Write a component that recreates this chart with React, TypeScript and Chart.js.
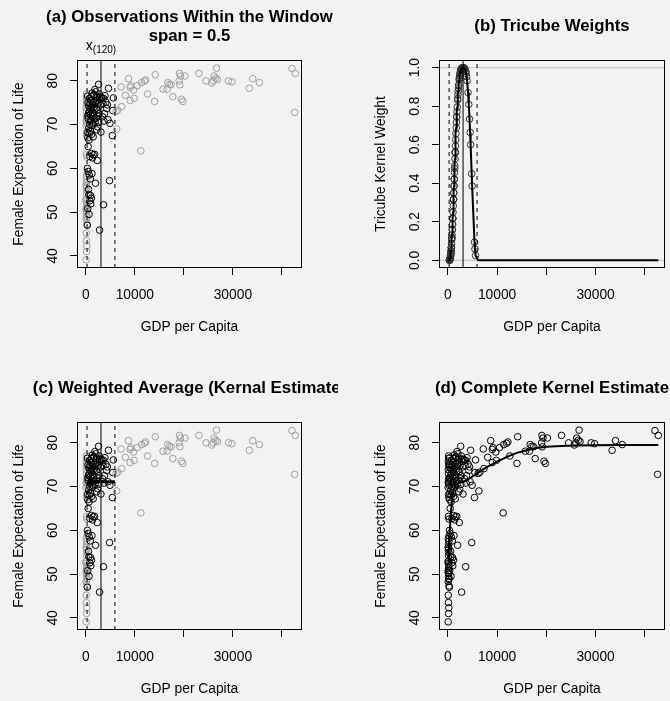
import React, { useEffect, useRef } from 'react';
import { Chart, registerables } from 'chart.js';

Chart.register(...registerables);

const FONT = '"Liberation Sans", Arial, Helvetica, sans-serif';

// ---- data (GDP per capita, female life expectancy) ----
const GDP_POOR = [60, 150, 200, 120, 90, 240, 70, 180, 130, 220, 100, 160, 245, 80, 190, 140, 230, 110, 50, 170, 210, 90, 245, 120, 200, 150, 60, 240, 100, 180, 220, 130, 80, 245, 160, 110, 200, 140, 230, 70, 245, 40, 190, 120, 240];
const LIFE_POOR = [39.1, 41.0, 42.3, 43.5, 45.2, 47.3, 48.3, 48.8, 49.5, 50.1, 50.8, 51.3, 51.9, 52.4, 53.0, 54.2, 54.9, 55.5, 56.2, 56.8, 57.5, 58.1, 62.6, 63.2, 67.5, 68.2, 69.8, 70.3, 71.0, 71.6, 72.0, 73.0, 73.9, 74.5, 75.2, 75.8, 76.5, 77.0, 58.7, 50.4, 49.0, 52.9, 55.9, 70.8, 74.9];

const GDP_MID = [300, 650, 1000, 820, 1150, 950, 560, 1250, 700, 330, 480, 1980, 2330, 820, 1150, 1500, 1800, 1380, 480, 2800, 3610, 4840, 900, 380, 600,
  2600, 1850, 4620, 1300, 1700, 2200, 2900, 3300, 3600, 5620, 3900, 1000, 1500, 2000, 2500, 3000, 600, 1200, 4250, 1800, 2300, 5500, 700, 1400, 2700, 900, 1600, 3400, 2100, 500, 4520, 1100, 3700, 1900, 4930, 800, 1300, 2400, 600, 2190, 1000, 3080, 700, 5410, 1500, 400, 2800, 3200,
  350, 450, 550, 750, 850, 950, 1050, 1150, 1250, 1350, 1450, 1550, 1650, 1750, 2050, 2150, 2350, 2450, 2650, 2750, 3500, 4100, 4400, 3800, 380, 420, 650, 1200];
const LIFE_MID = [47.0, 49.5, 51.9, 52.6, 53.2, 53.8, 55.2, 58.8, 58.5, 60.0, 59.3, 56.6, 61.8, 62.7, 63.4, 63.1, 63.2, 62.4, 65.0, 45.9, 51.7, 57.2, 57.6, 50.8, 54.0,
  79.2, 78.0, 78.3, 77.2, 76.8, 76.5, 76.3, 76.1, 76.0, 76.1, 76.6, 75.5, 75.2, 75.0, 74.8, 74.5, 74.3, 74.0, 73.7, 73.5, 73.3, 73.2, 73.0, 72.8, 72.5, 72.3, 72.0, 71.8, 71.5, 71.3, 71.1, 71.0, 70.8, 70.5, 70.3, 70.0, 69.8, 69.5, 69.2, 68.8, 68.5, 68.3, 68.0, 67.5, 67.2, 67.0, 75.8, 76.2,
  76.5, 75.0, 72.5, 76.0, 74.8, 70.8, 73.5, 76.4, 71.8, 74.5, 70.2, 76.8, 74.0, 71.2, 77.5, 73.8, 75.6, 72.0, 70.5, 77.0, 74.8, 75.1, 74.5, 72.5, 68.2, 72.0, 66.5, 67.8];

const GDP_RICH = [42060, 42740, 42600, 34050, 33360, 35410, 26650, 26170, 26500, 26850, 25960, 25690, 24520, 23080, 29110, 29800, 20210, 19110, 19320, 19040, 19180, 19520, 19800, 17740, 16710, 17060, 17400, 16580, 15760, 14180, 14040, 12600, 12190, 11920, 11370, 11230, 10480, 9730, 9850, 9180, 9040, 8700, 9040, 8080, 7190, 7330, 6510, 6300, 6160];
const LIFE_RICH = [82.8, 81.7, 72.8, 80.5, 78.3, 79.6, 82.9, 81.1, 80.6, 80.3, 80.0, 79.5, 80.0, 81.7, 80.0, 79.8, 81.1, 81.7, 81.1, 80.0, 79.1, 75.8, 75.3, 76.4, 79.6, 79.2, 79.1, 78.1, 78.1, 81.4, 75.3, 77.0, 80.2, 79.9, 79.6, 64.0, 78.9, 77.9, 76.0, 78.9, 78.5, 80.5, 75.5, 76.7, 78.6, 74.1, 73.3, 69.0, 73.0];

const GDP = [...GDP_POOR, ...GDP_MID, ...GDP_RICH];
const LIFE = [...LIFE_POOR, ...LIFE_MID, ...LIFE_RICH];

// focal point x(120), half-width of the window, weighted average in the window
const X0 = 3090;
const HALF_WIDTH = 2840;
const WEIGHTED_MEAN = 71.1;

// complete kernel estimate
const CURVE_GDP = [40, 150, 300, 500, 700, 900, 1200, 1600, 2200, 3090, 4000, 5000, 6000, 7000, 8000, 9000, 10000, 12000, 14000, 16000, 18000, 20000, 23000, 26000, 30000, 35000, 42740];
const CURVE_LIFE = [52.5, 55.0, 58.5, 62.0, 65.0, 67.5, 69.3, 70.3, 70.8, 71.1, 71.6, 72.3, 73.1, 73.8, 74.5, 75.1, 75.7, 76.8, 77.7, 78.3, 78.8, 79.1, 79.3, 79.4, 79.45, 79.5, 79.5];

const X_LIM = [-1800, 44100];
const LIFE_LIM = [37.24, 84.76];
const WEIGHT_LIM = [-0.04, 1.04];
const X_TICKS = [0, 10000, 20000, 30000, 40000];
const X_TICK_LABELS = ['0', '10000', '', '30000', ''];
const LIFE_TICKS = [40, 50, 60, 70, 80];
const WEIGHT_TICKS = [0, 0.2, 0.4, 0.6, 0.8, 1.0];

const GRAY_POINT = '#9e9e9e';

const inWindow = (x: number) => Math.abs(x - X0) < HALF_WIDTH;
const tricube = (x: number) => {
  const u = Math.abs(x - X0) / HALF_WIDTH;
  return u < 1 ? Math.pow(1 - u * u * u, 3) : 0;
};

type Box = { l: number; r: number; t: number; b: number };
type Spec = {
  id: string;
  left: number; top: number; w: number; h: number;
  box: Box;
  titles: { text: string; y: number }[];
  yTitle: string;
  yLim: number[];
  yTicks: number[];
  yFmt: (v: number) => string;
  yPad: number;
  datasets: any[];
  xLabel120?: boolean;
};

const vline = (x: number, yLim: number[], dashed: boolean) => ({
  data: [{ x, y: yLim[0] }, { x, y: yLim[1] }],
  showLine: true, borderColor: '#000', borderWidth: 1,
  borderDash: dashed ? [4, 4] : [], pointRadius: 0, fill: false,
});
const hline = (y: number, x1: number, x2: number, color: string, width: number) => ({
  data: [{ x: x1, y }, { x: x2, y }],
  showLine: true, borderColor: color, borderWidth: width, pointRadius: 0, fill: false,
});
const windowLines = (yLim: number[]) => [
  vline(X0 - HALF_WIDTH, yLim, true),
  vline(X0, yLim, false),
  vline(X0 + HALF_WIDTH, yLim, true),
];
const pointSet = (pts: { x: number; y: number }[], colors: string[] | string) => ({
  data: pts, showLine: false, pointRadius: 3.3, pointBorderWidth: 1,
  pointBorderColor: colors, pointBackgroundColor: 'rgba(0,0,0,0)',
});

const allPts = GDP.map((x, i) => ({ x, y: LIFE[i] }));
const windowColors = GDP.map((x) => (inWindow(x) ? '#000' : GRAY_POINT));
const order = GDP.map((_, i) => i).sort((a, b) => GDP[a] - GDP[b]);
const weightLine = order.map((i) => ({ x: GDP[i], y: tricube(GDP[i]) }));
const weightPts = GDP.filter((x) => inWindow(x)).map((x) => ({ x, y: tricube(x) }));
const curvePts = CURVE_GDP.map((x, i) => ({ x, y: CURVE_LIFE[i] }));

const SPECS: Spec[] = [
  {
    id: 'a', left: 0, top: 0, w: 335, h: 350,
    box: { l: 77, r: 302, t: 60, b: 268 },
    titles: [{ text: '(a) Observations Within the Window', y: 17.3 }, { text: 'span = 0.5', y: 36.7 }],
    yTitle: 'Female Expectation of Life', yLim: LIFE_LIM, yTicks: LIFE_TICKS,
    yFmt: (v) => String(v), yPad: 9.5,
    datasets: [...windowLines(LIFE_LIM), pointSet(allPts, windowColors)],
    xLabel120: true,
  },
  {
    id: 'b', left: 335, top: 0, w: 335, h: 350,
    box: { l: 104, r: 330, t: 60, b: 268 },
    titles: [{ text: '(b) Tricube Weights', y: 26 }],
    yTitle: 'Tricube Kernel Weight', yLim: WEIGHT_LIM, yTicks: WEIGHT_TICKS,
    yFmt: (v) => v.toFixed(1), yPad: 7.6,
    datasets: [
      ...windowLines(WEIGHT_LIM),
      { data: weightLine, showLine: true, borderColor: '#000', borderWidth: 2, pointRadius: 0, fill: false },
      pointSet(weightPts, '#333'),
      hline(0, X_LIM[0], X_LIM[1], '#bdbdbd', 1),
      hline(1, X_LIM[0], X_LIM[1], '#bdbdbd', 1),
    ],
  },
  {
    id: 'c', left: 0, top: 350, w: 338, h: 351,
    box: { l: 77, r: 302, t: 72, b: 280 },
    titles: [{ text: '(c) Weighted Average (Kernal Estimate)', y: 38.3 }],
    yTitle: 'Female Expectation of Life', yLim: LIFE_LIM, yTicks: LIFE_TICKS,
    yFmt: (v) => String(v), yPad: 9.5,
    datasets: [
      hline(WEIGHTED_MEAN, X0 - HALF_WIDTH, X0 + HALF_WIDTH, '#000', 3),
      ...windowLines(LIFE_LIM),
      pointSet(allPts, windowColors),
    ],
  },
  {
    id: 'd', left: 335, top: 350, w: 335, h: 351,
    box: { l: 104, r: 330, t: 72, b: 280 },
    titles: [{ text: '(d) Complete Kernel Estimate', y: 38.3 }],
    yTitle: 'Female Expectation of Life', yLim: LIFE_LIM, yTicks: LIFE_TICKS,
    yFmt: (v) => String(v), yPad: 9.5,
    datasets: [
      { data: curvePts, showLine: true, borderColor: '#000', borderWidth: 2, pointRadius: 0, fill: false, tension: 0 },
      pointSet(allPts, '#000'),
    ],
  },
];

const AXIS_FONT = { family: FONT, size: 13.8 };

function buildConfig(spec: Spec): any {
  const frame = {
    id: 'frame-' + spec.id,
    afterDraw(chart: any) {
      const ctx = chart.ctx;
      const a = chart.chartArea;
      ctx.save();
      ctx.strokeStyle = '#000';
      ctx.lineWidth = 1;
      ctx.strokeRect(Math.round(a.left) + 0.5, Math.round(a.top) + 0.5, Math.round(a.right - a.left) - 1, Math.round(a.bottom - a.top) - 1);
      ctx.fillStyle = '#000';
      ctx.textAlign = 'center';
      ctx.textBaseline = 'middle';
      ctx.font = `bold 16.8px ${FONT}`;
      const cx = (a.left + a.right) / 2;
      spec.titles.forEach((t) => ctx.fillText(t.text, cx, t.y));
      if (spec.xLabel120) {
        const px = chart.scales.x.getPixelForValue(X0);
        ctx.textAlign = 'left';
        ctx.textBaseline = 'alphabetic';
        ctx.font = `14px ${FONT}`;
        const w1 = ctx.measureText('x').width;
        ctx.font = `10px ${FONT}`;
        const w2 = ctx.measureText('(120)').width;
        const start = px - (w1 + w2) / 2;
        ctx.font = `14px ${FONT}`;
        ctx.fillText('x', start, 50);
        ctx.font = `10px ${FONT}`;
        ctx.fillText('(120)', start + w1, 52.5);
      }
      ctx.restore();
    },
  };

  const grid = { display: true, drawOnChartArea: false, drawTicks: true, tickLength: 7, color: '#000', lineWidth: 1 };
  const xAxisH = spec.h - spec.box.b;

  return {
    type: 'scatter',
    data: { datasets: spec.datasets },
    options: {
      animation: false,
      responsive: false,
      devicePixelRatio: 1,
      events: [],
      layout: { padding: { left: spec.box.l - 77, right: spec.w - spec.box.r, top: spec.box.t, bottom: 0 } },
      plugins: { legend: { display: false }, tooltip: { enabled: false }, title: { display: false } },
      scales: {
        x: {
          type: 'linear', min: X_LIM[0], max: X_LIM[1],
          afterBuildTicks: (s: any) => { s.ticks = X_TICKS.map((v) => ({ value: v })); },
          afterFit: (s: any) => { s.height = xAxisH; },
          ticks: {
            callback: (v: number) => X_TICK_LABELS[X_TICKS.indexOf(v)] ?? '',
            color: '#000', font: AXIS_FONT, padding: 12, maxRotation: 0, minRotation: 0, autoSkip: false,
          },
          grid, border: { display: false },
          title: {
            display: true, text: 'GDP per Capita', color: '#000', font: AXIS_FONT,
            padding: { top: 0, bottom: xAxisH - 59.5 - 8.3 },
          },
        },
        y: {
          type: 'linear', min: spec.yLim[0], max: spec.yLim[1],
          afterBuildTicks: (s: any) => { s.ticks = spec.yTicks.map((v) => ({ value: v })); },
          afterFit: (s: any) => { s.width = 77; },
          ticks: {
            callback: (v: number) => spec.yFmt(v),
            color: '#000', font: AXIS_FONT, minRotation: 90, maxRotation: 90,
            crossAlign: 'center', padding: spec.yPad, autoSkip: false,
          },
          grid, border: { display: false },
          title: {
            display: true, text: spec.yTitle, color: '#000', font: AXIS_FONT,
            padding: { top: 11.2, bottom: 0 },
          },
        },
      },
    },
    plugins: [frame],
  };
}

function Panel({ spec }: { spec: Spec }) {
  const ref = useRef<HTMLCanvasElement>(null);
  useEffect(() => {
    const chart = new Chart(ref.current as HTMLCanvasElement, buildConfig(spec));
    return () => chart.destroy();
  }, [spec]);
  return (
    <canvas
      ref={ref}
      width={spec.w}
      height={spec.h}
      style={{ position: 'absolute', left: spec.left, top: spec.top, width: spec.w, height: spec.h }}
    />
  );
}

export default function App() {
  return (
    <div style={{ position: 'absolute', left: 0, top: 0, width: 670, height: 701, background: '#f2f2f2', overflow: 'hidden' }}>
      {SPECS.map((s) => (
        <Panel key={s.id} spec={s} />
      ))}
    </div>
  );
}
